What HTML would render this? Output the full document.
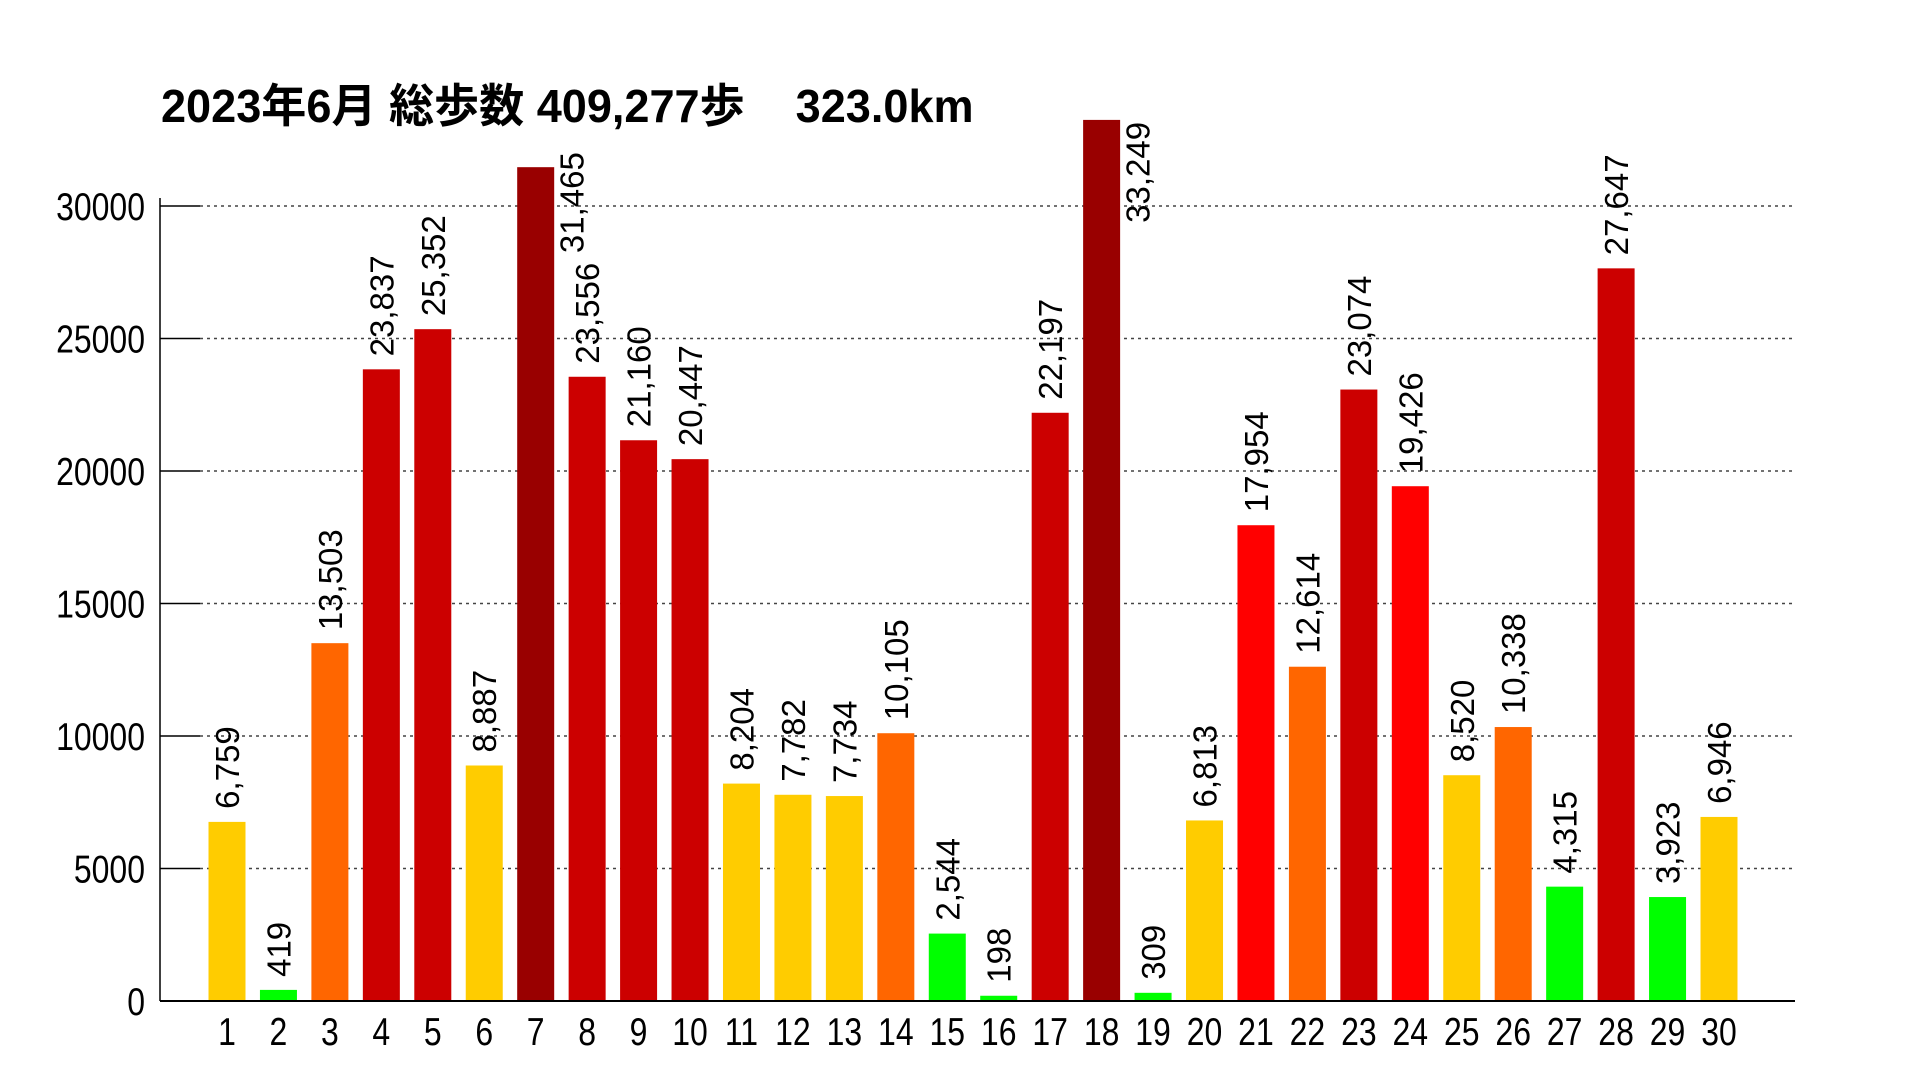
<!DOCTYPE html>
<html><head><meta charset="utf-8"><style>
html,body{margin:0;padding:0;background:#fff;}
svg{display:block;font-family:"Liberation Sans","Noto Sans CJK JP",sans-serif;}
</style></head><body>
<svg id="chart" width="1920" height="1080" viewBox="0 0 1920 1080">
<text x="161" y="122" font-size="46" font-weight="bold" fill="#000" transform="translate(161 0) scale(0.98 1) translate(-161 0)">2023年6月 総歩数 409,277歩<tspan dx="52">323.0km</tspan></text>
<g id="grid"></g><g id="bars"></g><g id="axes"></g>
</svg>
<script>
const days = ["1","2","3","4","5","6","7","8","9","10","11","12","13","14","15","16","17","18","19","20","21","22","23","24","25","26","27","28","29","30"];
const steps = [6759,419,13503,23837,25352,8887,31465,23556,21160,20447,8204,7782,7734,10105,2544,198,22197,33249,309,6813,17954,12614,23074,19426,8520,10338,4315,27647,3923,6946];
const yTicks = [0,5000,10000,15000,20000,25000,30000];

const NS="http://www.w3.org/2000/svg";
const axX=160, plotL=200, plotR=1795, y0=1001, yTop=206, yMax=30000;
const yS=v=>y0-(v/yMax)*(y0-yTop);
const firstC=227, lastC=1719;
const step=(lastC-firstC)/(days.length-1);
const xS=i=>firstC+i*step;
const bw=37;
function color(v){
  if(v>=30000) return "#990000";
  if(v>=20000) return "#cc0000";
  if(v>=15000) return "#ff0000";
  if(v>=10000) return "#ff6600";
  if(v>=5000) return "#ffcc00";
  return "#00ff00";
}
function mk(tag,attrs,parent){const e=document.createElementNS(NS,tag);for(const k in attrs)e.setAttribute(k,attrs[k]);parent.appendChild(e);return e;}
const grid=document.getElementById('grid'),bars=document.getElementById('bars'),axes=document.getElementById('axes');

yTicks.forEach(t=>{
  const y=yS(t);
  if(t>0){
    const g=mk('line',{x1:plotL,x2:plotR,y1:y,y2:y,stroke:'#444','stroke-width':1.5,'stroke-dasharray':'3 4'},grid);
    
    
  }
  const tk=mk('line',{x1:axX,x2:plotL,y1:y,y2:y,stroke:'#000','stroke-width':1.5},axes);
  
  
  const lb=mk('text',{x:145,y:y+14,'text-anchor':'end','font-size':39,fill:'#000',transform:`translate(145 0) scale(0.82 1) translate(-145 0)`},axes);
  lb.textContent=String(t);
  
  
});

steps.forEach((v,i)=>{
  const cx=xS(i), top=yS(v);
  const r=mk('rect',{x:cx-bw/2,y:top,width:bw,height:y0-top,fill:color(v)},bars);
  
  
  const label=v.toLocaleString('en-US');
  let t;
  if(v>32000){
    t=mk('text',{'font-size':33,fill:'#000','text-anchor':'end',transform:`translate(${cx+48} ${top+2}) rotate(-90)`},bars);
  } else if(v>31000){
    t=mk('text',{'font-size':33,fill:'#000','text-anchor':'end',transform:`translate(${cx+48} ${top-15}) rotate(-90)`},bars);
  } else {
    t=mk('text',{'font-size':33,fill:'#000','text-anchor':'start',transform:`translate(${cx+12} ${top-13}) rotate(-90)`},bars);
  }
  t.textContent=label;
  
  
  const xl=mk('text',{x:cx,y:1045,'text-anchor':'middle','font-size':39,fill:'#000',transform:`translate(${cx} 0) scale(0.82 1) translate(${-cx} 0)`},axes);
  xl.textContent=days[i];
  
  
});

const va=mk('line',{x1:axX,x2:axX,y1:yTop-8,y2:y0,stroke:'#000','stroke-width':1.5},axes);


const ha=mk('line',{x1:axX,x2:plotR,y1:y0,y2:y0,stroke:'#000','stroke-width':2},axes);


</script>
</body></html>
